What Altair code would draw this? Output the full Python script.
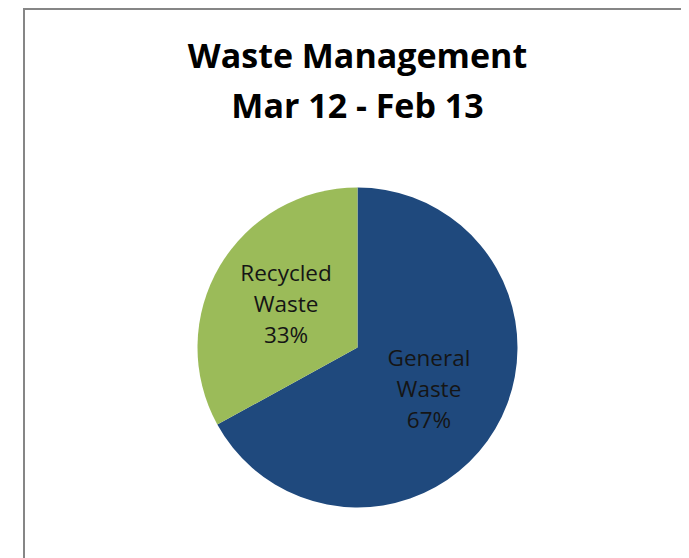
import altair as alt
import pandas as pd

categories = ["General Waste", "Recycled Waste"]
values = [67, 33]
colors = ["#1F497D", "#9BBB59"]

labels = [c.replace(" ", "\n") + f"\n{v}%" for c, v in zip(categories, values)]
df = pd.DataFrame({"category": categories, "value": values, "label": labels,
                   "order": list(range(len(categories)))})

FONT = "Open Sans"
W = H = 320
PL, PT = 189.5, 179.5
TOTAL_W, TOTAL_H = 673, 550
PR = TOTAL_W - PL - W
PB = TOTAL_H - PT - H

base = alt.Chart(df).encode(
    theta=alt.Theta("value:Q", stack=True),
    order=alt.Order("order:Q"),
)

pie = base.mark_arc(outerRadius=160, stroke=None).encode(
    color=alt.Color("category:N", scale=alt.Scale(domain=categories, range=colors), legend=None)
)

text = base.mark_text(radius=83, dy=-31, font=FONT, fontSize=22.5, lineHeight=31,
                      lineBreak="\n", color="#151515", align="center", baseline="middle").encode(
    text="label:N"
)

border_left = alt.Chart(df).mark_rule(color="#868686", strokeWidth=2).encode(
    x=alt.value(24 - 8 - PL), y=alt.value(9 - 8 - PT), y2=alt.value(TOTAL_H - PT)
)
border_top = alt.Chart(df).mark_rule(color="#868686", strokeWidth=2).encode(
    y=alt.value(9 - 8 - PT), x=alt.value(24 - 8 - PL - 1), x2=alt.value(TOTAL_W - PL)
)

chart = alt.layer(border_left, border_top, pie, text).properties(
    width=W, height=H,
    autosize=alt.AutoSizeParams(type="none"),
    padding={"left": PL, "top": PT, "right": PR, "bottom": PB},
    title=alt.Title(["Waste Management", "Mar 12 - Feb 13"], font=FONT, fontSize=34,
                    fontWeight="bold", lineHeight=50, color="#000000", anchor="middle",
                    frame="group", baseline="bottom", offset=-151),
).configure_view(stroke=None)

chart.save("out.html", embed_options={"renderer": "svg", "actions": False})
